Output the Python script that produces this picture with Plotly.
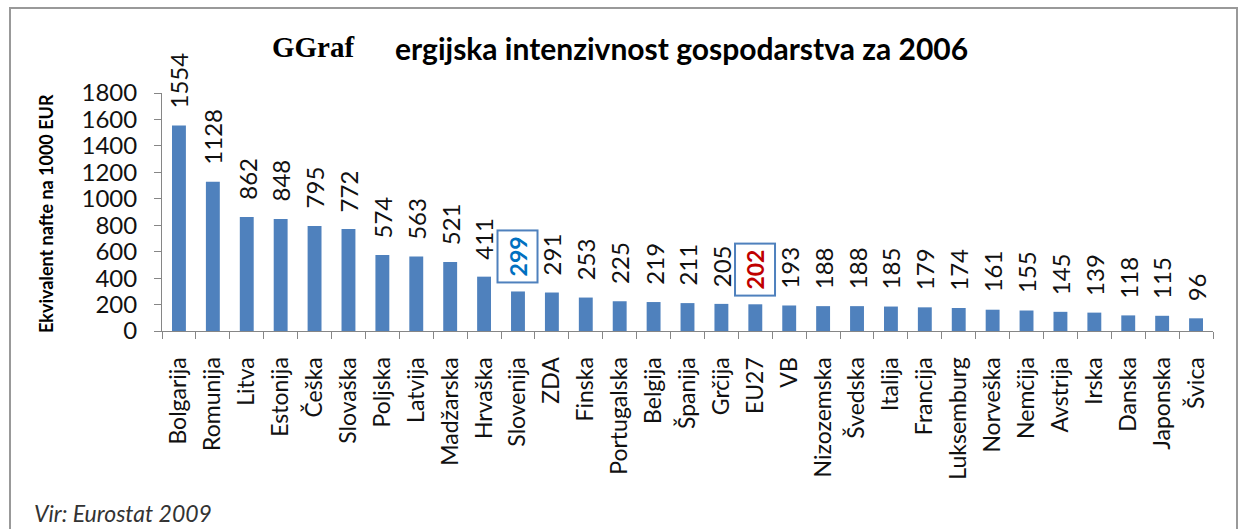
import plotly.graph_objects as go

categories = ["Bolgarija", "Romunija", "Litva", "Estonija", "Češka", "Slovaška", "Poljska",
              "Latvija", "Madžarska", "Hrvaška", "Slovenija", "ZDA", "Finska", "Portugalska",
              "Belgija", "Španija", "Grčija", "EU27", "VB", "Nizozemska", "Švedska", "Italija",
              "Francija", "Luksemburg", "Norveška", "Nemčija", "Avstrija", "Irska", "Danska",
              "Japonska", "Švica"]
values = [1554, 1128, 862, 848, 795, 772, 574, 563, 521, 411, 299, 291, 253, 225, 219, 211,
          205, 202, 193, 188, 188, 185, 179, 174, 161, 155, 145, 139, 118, 115, 96]
highlight = {"Slovenija": "#0070C0", "EU27": "#C00000"}
y_ticks = [0, 200, 400, 600, 800, 1000, 1200, 1400, 1600, 1800]

W, H = 1242, 529
L, R, T, B = 162, 29, 93, 198
PW, PH = W - L - R, H - T - B

def px(x):
    return (x - L) / PW

def py(y):
    return (H - B - y) / PH

FONT = "Lato"
BAR = "#4F81BD"
AX = "#868686"

fig = go.Figure()
fig.add_trace(go.Bar(x=categories, y=values, marker=dict(color=BAR, line=dict(width=0)),
                     hoverinfo="x+y"))

annotations = []
for c, v in zip(categories, values):
    if c in highlight:
        annotations.append(dict(x=c, y=v, xref="x", yref="y", yanchor="bottom", yshift=8,
                                text=f"<b>{v}</b>", textangle=-90, showarrow=False,
                                font=dict(family=FONT, size=23, color=highlight[c]),
                                bordercolor="#4F81BD", borderwidth=2, borderpad=5,
                                bgcolor="white"))
    else:
        annotations.append(dict(x=c, y=v, xref="x", yref="y", yanchor="bottom", yshift=15,
                                text=str(v), textangle=-90, showarrow=False,
                                font=dict(family=FONT, size=24, color="#111")))

annotations.append(dict(x=px(270), y=py(47), xref="paper", yref="paper", xanchor="left",
                        yanchor="middle", text="<b>GGraf</b>", showarrow=False,
                        font=dict(family="Liberation Serif", size=29, color="#000")))
annotations.append(dict(x=px(393), y=py(48), xref="paper", yref="paper", xanchor="left",
                        yanchor="middle",
                        text="<b>ergijska intenzivnost gospodarstva za 2006</b>",
                        showarrow=False, font=dict(family=FONT, size=30, color="#000")))
annotations.append(dict(x=px(33), y=py(513), xref="paper", yref="paper", xanchor="left",
                        yanchor="middle", text="<i>Vir: Eurostat 2009</i>", showarrow=False,
                        borderpad=0,
                        font=dict(family=FONT, size=23, color="#333")))
annotations.append(dict(x=px(46), y=py(214), xref="paper", yref="paper", xanchor="center",
                        yanchor="middle", text="<b>Ekvivalent nafte na 1000 EUR</b>",
                        textangle=-90, showarrow=False,
                        font=dict(family=FONT, size=18, color="#000")))

fig.update_layout(
    width=W, height=H,
    margin=dict(l=L, r=R, t=T, b=B, pad=0),
    paper_bgcolor="white", plot_bgcolor="white",
    bargap=0.59,
    showlegend=False,
    annotations=annotations,
    shapes=[dict(type="rect", xref="paper", yref="paper", x0=px(10), x1=px(1237),
                 y0=py(560), y1=py(8), line=dict(color="#999999", width=2),
                 fillcolor="rgba(0,0,0,0)", layer="below")],
    xaxis=dict(type="category", showline=True, linecolor=AX, linewidth=1,
               ticks="outside", tickson="boundaries", ticklen=7, tickcolor=AX,
               tickangle=-90, ticklabelstandoff=16, showgrid=False,
               tickfont=dict(family=FONT, size=23, color="#111"),
               range=[-0.5, len(categories) - 0.5]),
    yaxis=dict(range=[0, 1800], tickvals=y_ticks, showline=True, linecolor=AX, linewidth=1,
               ticks="outside", ticklen=7, tickcolor=AX, showgrid=False, zeroline=False,
               ticklabelstandoff=12,
               tickfont=dict(family=FONT, size=24, color="#111")),
)

fig.write_html("out.html", config={"displayModeBar": False},
               post_script="document.body.style.margin='0';document.body.style.overflow='hidden';")
